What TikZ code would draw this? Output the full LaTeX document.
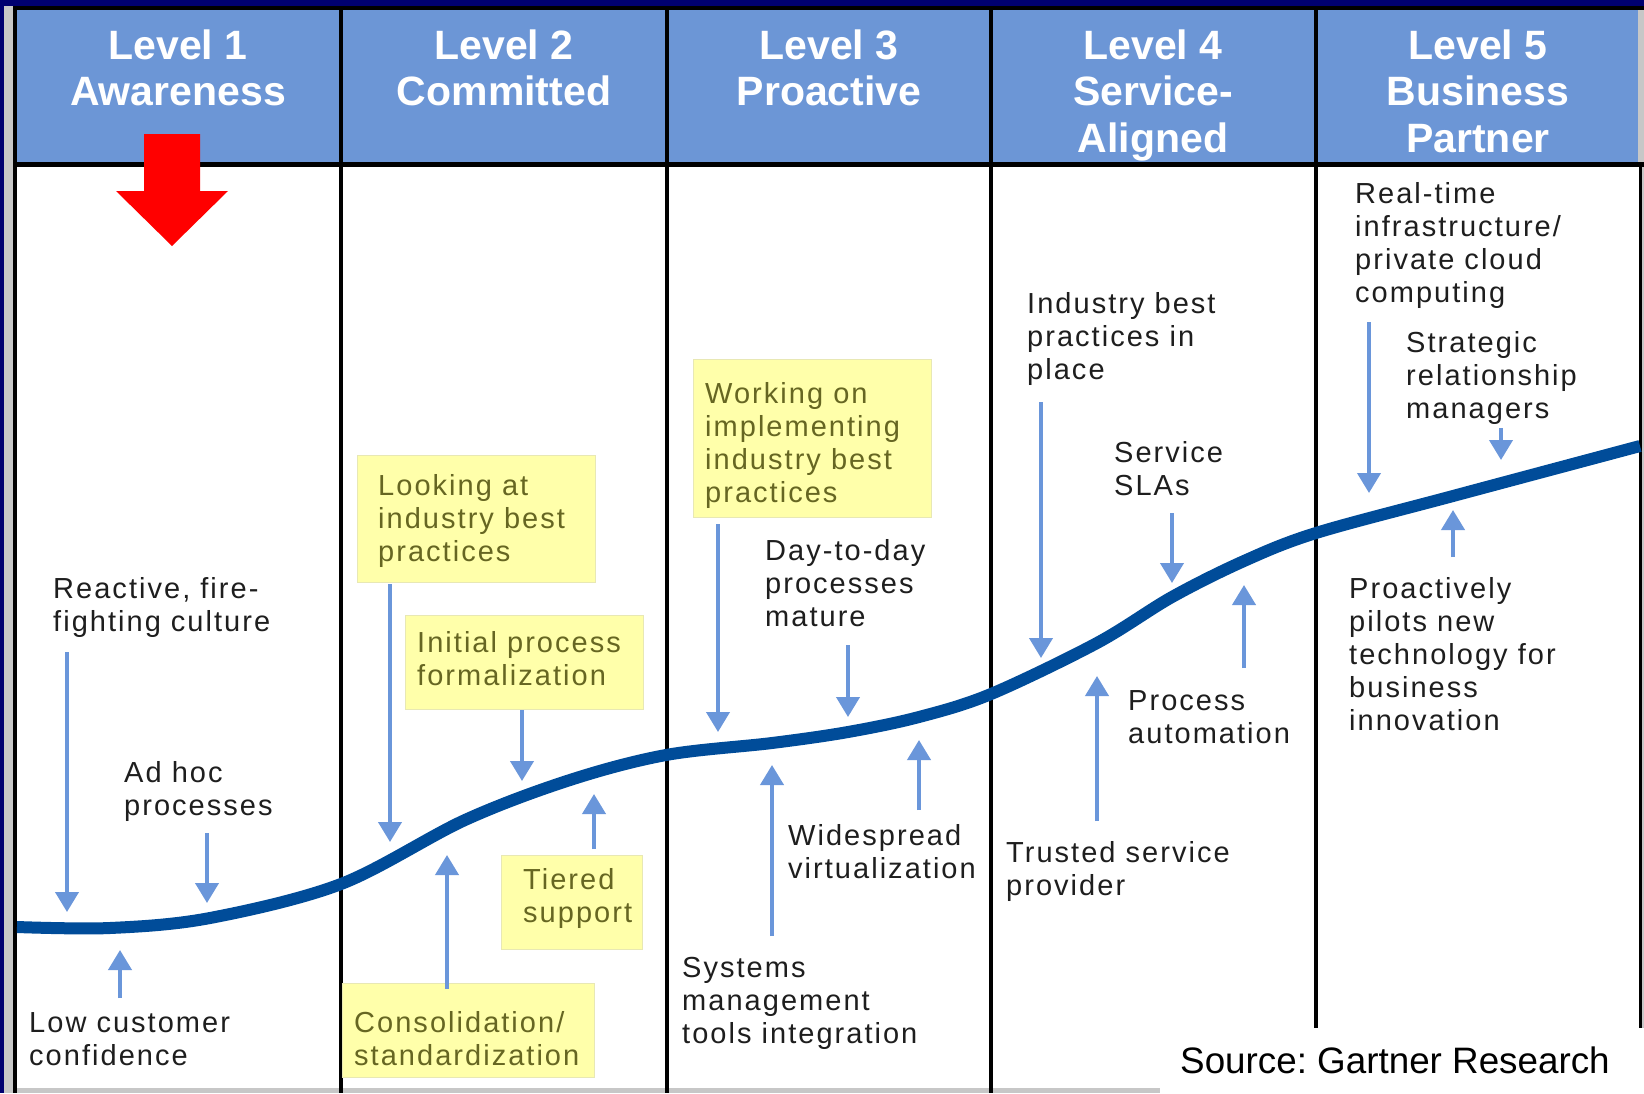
\documentclass[tikz,border=0pt]{standalone}
\usepackage{fontspec}
\setmainfont{Liberation Sans}
\newfontfamily\bodyfont[LetterSpace=7]{Liberation Sans}
\usetikzlibrary{arrows.meta}
\frenchspacing
\definecolor{navy}{RGB}{0,0,112}
\definecolor{hdrblue}{RGB}{108,150,214}
\definecolor{curveblue}{RGB}{0,76,153}
\definecolor{arrblue}{RGB}{106,150,218}
\definecolor{boxyellow}{RGB}{255,255,170}
\definecolor{boxedge}{RGB}{232,232,180}
\definecolor{olivetxt}{RGB}{102,102,34}
\definecolor{txtgray}{RGB}{30,30,30}
\newcommand{\mylines}[2][l]{\begin{tabular}[t]{@{}#1@{}}#2\end{tabular}}
\begin{document}
\begin{tikzpicture}[x=1pt,y=-1pt,
  hdr/.style={text=white, font=\fontsize{41}{46.5}\selectfont\bfseries, inner sep=0pt, anchor=base},
  lbl/.style={text=txtgray, font=\bodyfont\fontsize{29}{33}\selectfont, inner sep=0pt, anchor=base west},
  ylbl/.style={lbl, text=olivetxt},
  ybox/.style={fill=boxyellow, draw=boxedge, line width=1pt, anchor=north west, inner sep=0pt},
  blarrow/.style={draw=arrblue, line width=4pt, -{Triangle[width=23pt,length=20pt]}},
  sgcurve/.style={draw=curveblue, line width=12pt},
  divider/.style={draw=black, line width=4.5pt}]
\useasboundingbox (0,0) rectangle (1644,1093);
% frame
\fill[navy] (0,0) rectangle (1644,1093);
\fill[black!22] (4,6) rectangle (1644,1093);
\fill[white] (17,164) rectangle (1640,1088);
\fill[hdrblue] (17,10) rectangle (1638,162);
\fill[black] (13,6) rectangle (1644,10);
\draw[black, line width=5pt] (13,164) -- (1644,164);
\foreach \x in {15,341,667,991,1316} \draw[divider] (\x,6) -- (\x,1093);
\draw[black, line width=3pt] (1640,162) -- (1640,1028);
% headers
\node[hdr] (h1) at (178,59) {\mylines[c]{Level 1\\Awareness}};
\node[hdr] (h2) at (504,59) {\mylines[c]{Level 2\\Committed}};
\node[hdr] (h3) at (829,59) {\mylines[c]{Level 3\\Proactive}};
\node[hdr] (h4) at (1153,59) {\mylines[c]{Level 4\\Service-\\Aligned}};
\node[hdr] (h5) at (1478,59) {\mylines[c]{Level 5\\Business\\Partner}};
% red arrow
\fill[red] (144,134) -- (200,134) -- (200,191) -- (228,191) -- (172,246) -- (116,191) -- (144,191) -- cycle;
% curve
\draw[sgcurve] plot[smooth, tension=0.55] coordinates {(17,927) (110,928) (210,918) (341,884) (465,820) (570,780) (666,755) (772,743) (848,732) (919,717) (991,694) (1097,643) (1172,597) (1244,561) (1316,533) (1453,496) (1640,446)};
% yellow boxes
\node[ybox, minimum width=238pt, minimum height=127pt] (b1) at (357,455) {};
\node[ybox, minimum width=238pt, minimum height=94pt] (b2) at (405,615) {};
\node[ybox, minimum width=141pt, minimum height=94pt] (b3) at (501,855) {};
\node[ybox, minimum width=252pt, minimum height=94pt] (b4) at (342,983) {};
\node[ybox, minimum width=238pt, minimum height=158pt] (b5) at (693,359) {};
\node[ylbl] (t1) at (378,495) {\mylines{Looking at\\industry best\\practices}};
\node[ylbl] (t2) at (417,652) {\mylines{Initial process\\formalization}};
\node[ylbl] (t3) at (523,889) {\mylines{Tiered\\support}};
\node[ylbl] (t4) at (354,1032) {\mylines{Consolidation/\\standardization}};
\node[ylbl] (t5) at (705,403) {\mylines{Working on\\implementing\\industry best\\practices}};
% plain labels
\node[lbl] (l1) at (53,598) {\mylines{Reactive, fire-\\fighting culture}};
\node[lbl] (l2) at (124,782) {\mylines{Ad hoc\\processes}};
\node[lbl] (l3) at (29,1032) {\mylines{Low customer\\confidence}};
\node[lbl] (l4) at (765,560) {\mylines{Day-to-day\\processes\\mature}};
\node[lbl] (l5) at (788,845) {\mylines{Widespread\\virtualization}};
\node[lbl] (l6) at (682,977) {\mylines{Systems\\management\\tools integration}};
\node[lbl] (l7) at (1027,313) {\mylines{Industry best\\practices in\\place}};
\node[lbl] (l8) at (1114,462) {\mylines{Service\\SLAs}};
\node[lbl] (l9) at (1128,710) {\mylines{Process\\automation}};
\node[lbl] (l10) at (1006,862) {\mylines{Trusted service\\provider}};
\node[lbl] (l11) at (1355,203) {\mylines{Real-time\\infrastructure/\\private cloud\\computing}};
\node[lbl] (l12) at (1406,352) {\mylines{Strategic\\relationship\\managers}};
\node[lbl] (l13) at (1349,598) {\mylines{Proactively\\pilots new\\technology for\\business\\innovation}};
% arrow end points
\foreach \n/\x/\ya/\yb in {a1/67/652/912, a2/207/833/903, a3/120/998/950,
  a4/390/584/842, a5/522/710/781, a6/594/849/794, a7/447/989/855,
  a8/718/524/732, a9/848/645/717, a10/772/936/765, a11/919/810/740,
  a12/1041/402/658, a13/1172/513/583, a14/1244/668/585, a15/1097/821/676,
  a16/1369/322/493, a17/1501/428/460, a18/1453/557/510} {
  \coordinate (\n s) at (\x,\ya);
  \coordinate (\n e) at (\x,\yb);
  \draw[blarrow] (\n s) -- (\n e);
}
% source
\node[fill=white, anchor=north west, minimum width=484pt, minimum height=65pt, inner sep=0pt] (srcbox) at (1160,1028) {};
\node[font=\fontsize{36.8}{44}\selectfont, anchor=base west, inner sep=0pt] (src) at (1180,1073) {Source: Gartner Research};
\end{tikzpicture}
\end{document}
